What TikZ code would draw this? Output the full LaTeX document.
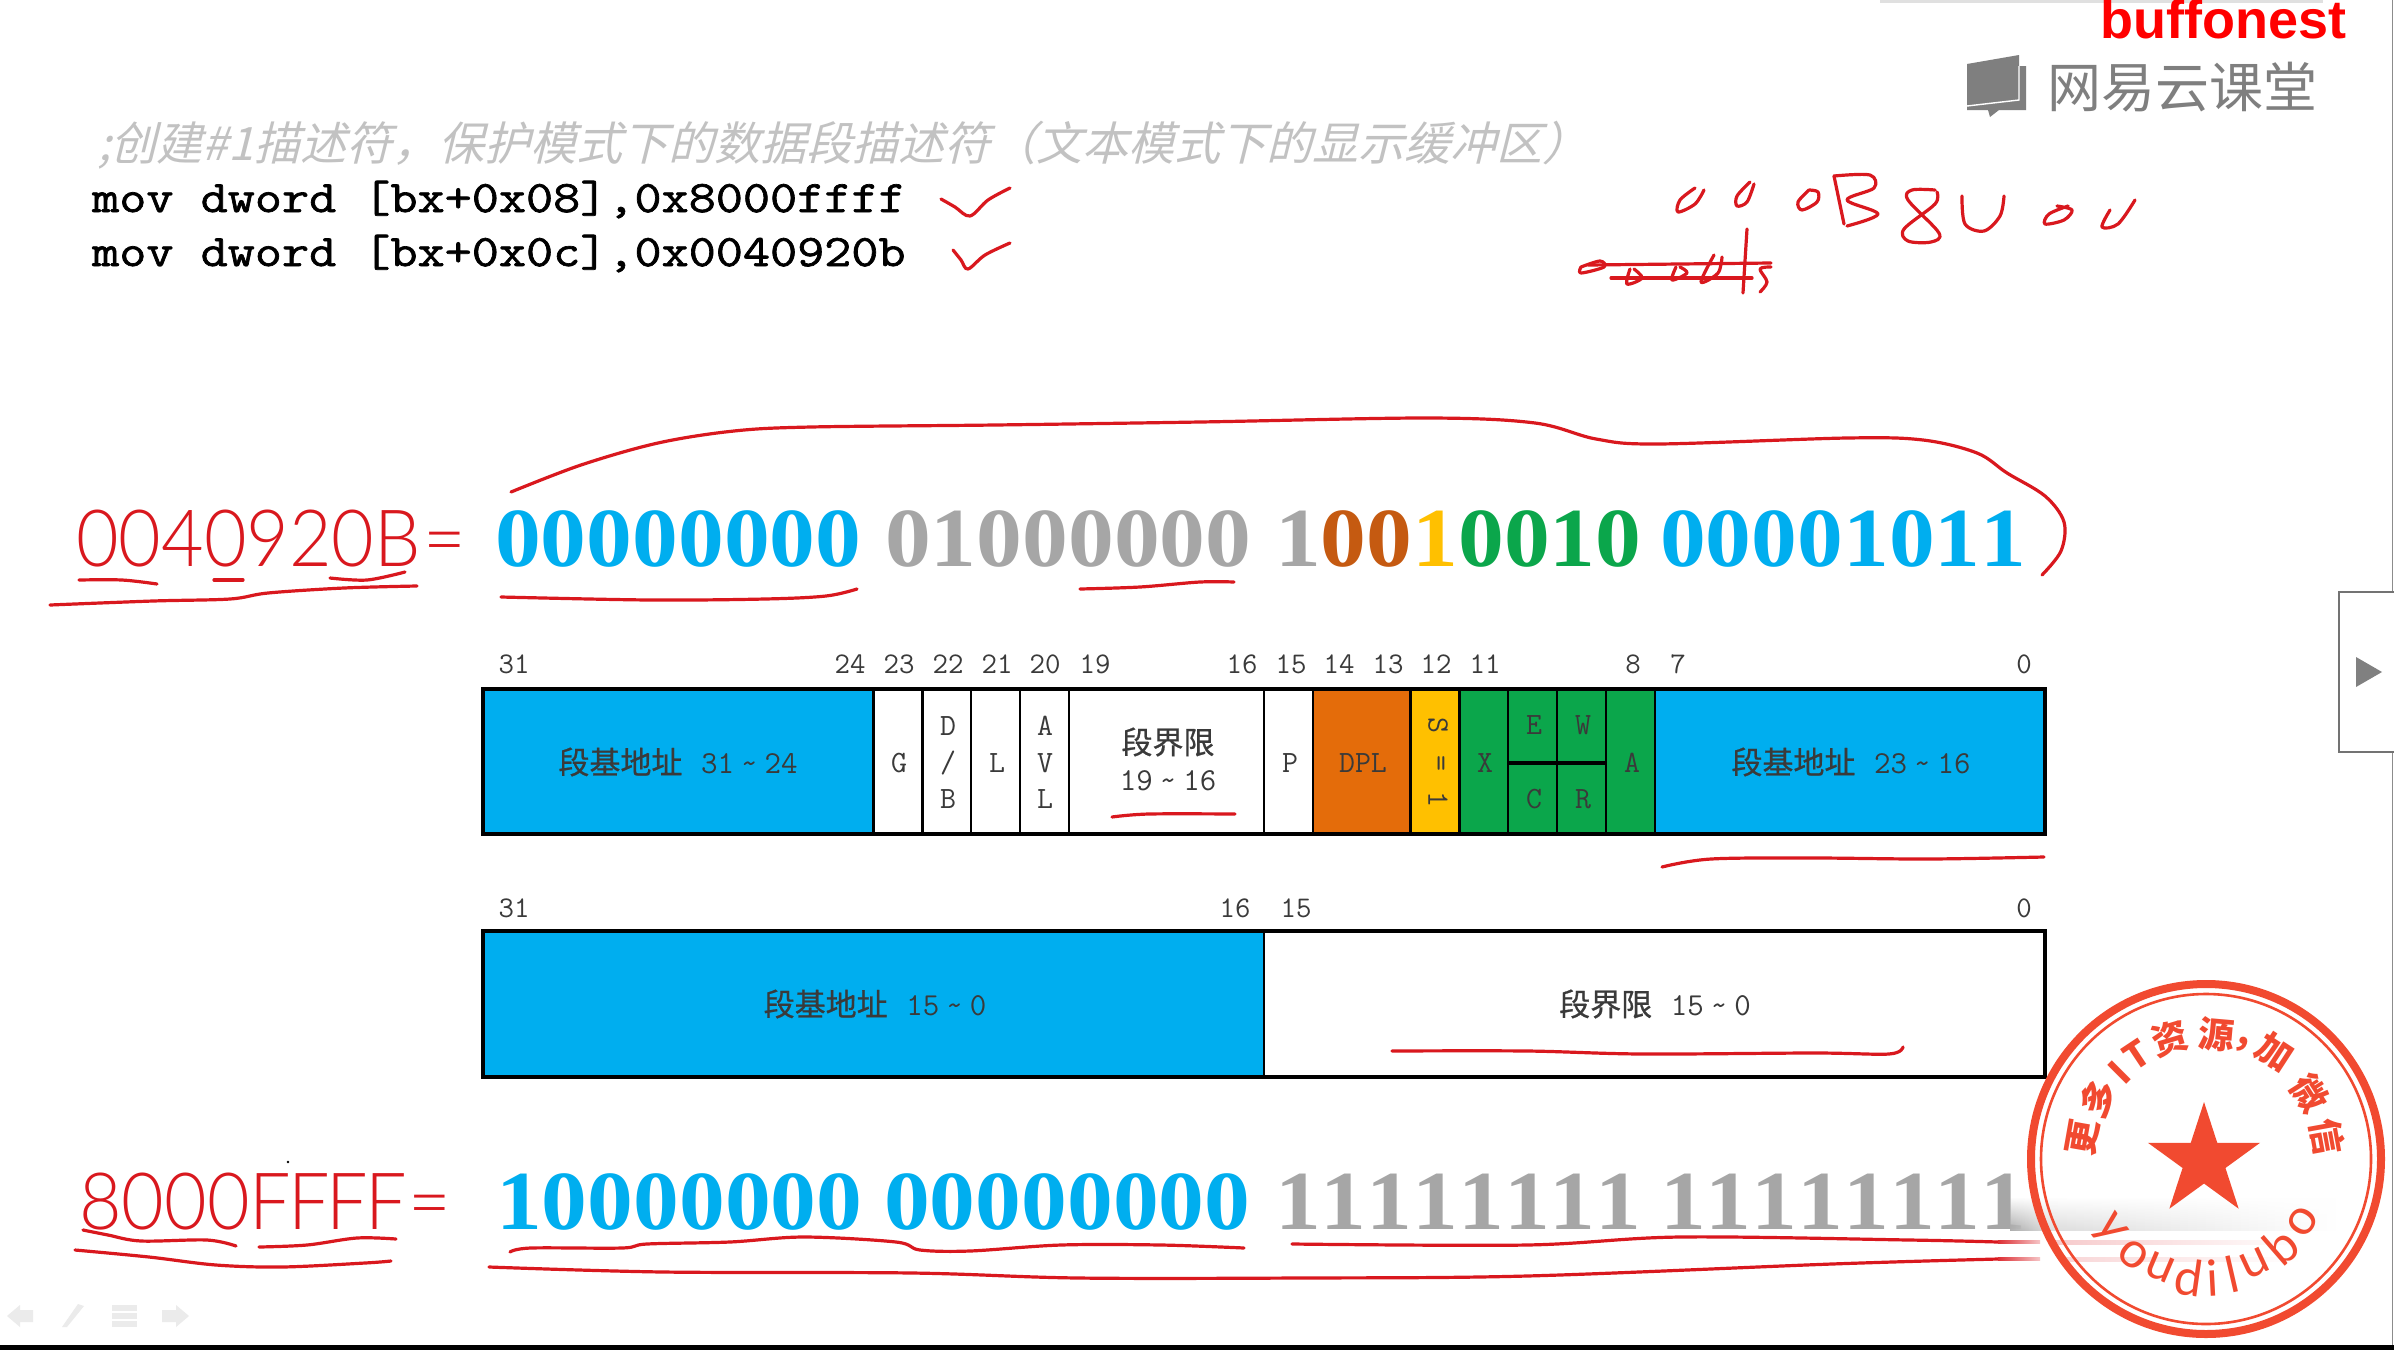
\documentclass[tikz,border=0pt]{standalone}
\usepackage{fontspec}
\usetikzlibrary{shapes.geometric,fadings}
\newfontfamily\bigdig[FakeStretch=1.09,Kerning=Off]{Liberation Serif}
\newfontfamily\redthin[FakeStretch=.93]{Lato Light}
\newfontfamily\monof{Latin Modern Mono}
\newfontfamily\movf[FakeStretch=1.17,FakeBold=1.5]{Latin Modern Mono}
\newfontfamily\cjkf{Noto Sans CJK SC}
\newfontfamily\cellcjk[FakeBold=.7]{Noto Sans CJK SC}
\newfontfamily\cmtf[FakeSlant=.25]{Noto Sans CJK SC}
\newfontfamily\arialf{Liberation Sans}
\newfontfamily\stampf{Lato}
\newcommand{\fsz}[1]{\fontsize{#1}{#1}\selectfont}
\newcommand{\tld}{\textasciitilde}
\newcommand{\rng}[2]{{\fsz{32}#1\hspace{.22em}\tld\hspace{.22em}#2}}
\definecolor{blueF}{HTML}{00AEEF}
\definecolor{orangeF}{HTML}{E46C0A}
\definecolor{yellowF}{HTML}{FFC000}
\definecolor{greenF}{HTML}{0BA64B}
\definecolor{grayD}{HTML}{A6A6A6}
\definecolor{brownD}{HTML}{C55A11}
\definecolor{inkred}{HTML}{D9181E}
\definecolor{stampred}{HTML}{F14A30}
\definecolor{labgray}{HTML}{3A3A3A}
\definecolor{logogray}{HTML}{7F7F7F}
\tikzset{
  ink/.style={draw=inkred,line width=3.2pt,line join=round,line cap=round},
  lbl/.style={inner sep=0pt,font=\monof\fsz{30},text=labgray},
  celltxt/.style={inner sep=0pt,font=\monof\fsz{31},text=labgray},
  digits/.style={inner sep=0pt,anchor=base west,font=\bigdig\bfseries\fsz{84}},
  redtxt/.style={inner sep=0pt,anchor=base west,font=\redthin\fsz{79},text=inkred},
  outer/.style={draw=black,line width=3.6pt,line join=miter},
  inner/.style={draw=black,line width=2.6pt},
  ctop/.style={inner sep=0pt,font=\cjkf\bfseries\fsz{36},text=stampred},
  clat/.style={inner sep=0pt,font=\stampf\fsz{50},text=stampred},
  navicon/.style={fill=black!8,draw=none}
}
\newcommand{\inkpath}[1]{\draw[ink] plot[smooth,tension=.55] coordinates {#1};}
\begin{document}
\begin{tikzpicture}[x=1pt,y=-1pt]
\useasboundingbox (0,0) rectangle (2394,1350);
\fill[white] (0,0) rectangle (2394,1350);
% chrome
\fill[black!12] (1880,0) rectangle (2323,3);
\fill[black] (0,1345) rectangle (2394,1350);
\draw[black!45,line width=1pt] (2392,0) -- (2392,1345);
\draw[black!55,fill=white,line width=1.4pt] (2394,592) -- (2339,592) -- (2339,752) -- (2394,752);
\fill[black!50] (2356,657) -- (2382,672) -- (2356,687) -- cycle;
% nav icons
\fill[navicon] (7,1316) -- (20,1305) -- (20,1310) -- (33,1310) -- (33,1322) -- (20,1322) -- (20,1327) -- cycle;
\fill[navicon] (62,1327) -- (78,1304) -- (84,1306) -- (67,1327) -- cycle;
\fill[navicon] (112,1305) rectangle (137,1311);
\fill[navicon] (112,1313) rectangle (137,1319);
\fill[navicon] (112,1321) rectangle (137,1327);
\fill[navicon] (189,1316) -- (176,1305) -- (176,1310) -- (162,1310) -- (162,1322) -- (176,1322) -- (176,1327) -- cycle;
\fill[black] (288,1162) circle (1.3pt);
% header marks
\node[inner sep=0pt,anchor=base east,font=\arialf\bfseries\fsz{54},text=red] (brand) at (2347,38) {buffonest};
\fill[logogray] (1967,64) -- (2019,55) -- (2019,100) -- (1967,106) -- cycle;
\fill[logogray] (1967,106) -- (2019,100) -- (2019,66) -- (2026,66) -- (2026,110) -- (1999,110) -- (1990,117) -- (1988,110) -- (1967,110) -- cycle;
\draw[white,line width=1.4pt] (1967,106) -- (2019,100) -- (2019,66);
\node[inner sep=0pt,anchor=base west,font=\cjkf\fsz{54},text=logogray] (logo) at (2047,107) {网易云课堂};
% code
\node[inner sep=0pt,anchor=base west,font=\cmtf\fsz{46},text=black!24] (comment) at (98,160) {;创建\#1描述符，保护模式下的数据段描述符（文本模式下的显示缓冲区）};
\node[inner sep=0pt,anchor=base west,font=\movf\fsz{45},text=black] (mov1) at (92,212) {mov dword [bx+0x08],0x8000ffff};
\node[inner sep=0pt,anchor=base west,font=\movf\fsz{45},text=black] (mov2) at (92,266) {mov dword [bx+0x0c],0x0040920b};
\inkpath{(941,199)(955,207)(970,216)(988,200)(1010,188)}
\inkpath{(953,250)(961,260)(968,269)(985,255)(1010,243)}
% handwritten top right
\inkpath{(1695,188)(1680,200)(1678,212)(1695,204)(1704,190)}
\inkpath{(1750,182)(1737,196)(1737,206)(1747,202)(1754,184)}
\inkpath{(1809,190)(1798,202)(1802,210)(1817,202)(1818,192)(1809,190)}
\draw[ink] (1834,176) -- (1844,224);
\inkpath{(1834,176)(1870,175)(1874,188)(1847,200)(1878,214)(1847,226)}
\inkpath{(1935,190)(1912,190)(1908,200)(1939,233)(1931,242)(1908,241)(1904,229)(1935,204)(1937,192)}
\inkpath{(1962,196)(1965,224)(1984,231)(2000,216)(2004,196)}
\inkpath{(2068,206)(2049,214)(2045,224)(2064,220)(2072,210)(2057,206)}
\inkpath{(2110,210)(2102,227)(2118,224)(2135,200)}
\inkpath{(1581,267)(1600,261)(1604,267)(1581,273)(1581,267)}
\draw[ink] (1588,265) -- (1771,263);
\draw[ink] (1611,278) -- (1752,278);
\draw[ink] (1747,229) -- (1743,293);
\inkpath{(1630,269)(1627,284)(1642,278)(1634,269)}
\inkpath{(1676,267)(1672,280)(1687,273)(1680,267)}
\inkpath{(1714,255)(1701,282)(1718,273)(1722,257)}
\inkpath{(1771,267)(1760,269)(1767,282)(1760,292)}
% row 1 digits
\node[redtxt] (hex1) at (76,566) {0040920B\kern 3pt=};
\node[digits,text=blueF] (d1a) at (495,566) {00000000};
\node[digits,text=grayD] (d1b) at (885,566) {01000000};
\node[digits] (d1c) at (1275,566) {{\color{grayD}1}{\color{brownD}00}{\color{yellowF}1}{\color{greenF}0010}};
\node[digits,text=blueF] (d1d) at (1660,566) {00001011};
% bracket and underlines
\inkpath{(511,492)(581,465)(658,443)(734,431)(811,427)(995,425)(1200,422)(1428,418)(1535,423)(1596,439)(1657,444)(1847,438)(1923,440)(1977,453)(2007,473)(2045,496)(2064,522)(2061,551)(2042,575)}
\inkpath{(79,580)(122,580)(157,584)}
\inkpath{(214,580)(243,580)}
\inkpath{(330,578)(367,580)(405,572)}
\inkpath{(50,605)(153,601)(230,599)(268,593)(344,588)(417,586)}
\inkpath{(501,597)(650,600)(765,599)(826,596)(857,589)}
\inkpath{(1080,589)(1140,587)(1200,582)(1234,582)}
% table 1
\fill[blueF] (483,689) rectangle (873.5,834);
\fill[orangeF] (1313,689) rectangle (1410.7,834);
\fill[yellowF] (1410.7,689) rectangle (1459.5,834);
\fill[greenF] (1459.5,689) rectangle (1655,834);
\fill[blueF] (1655,689) rectangle (2045,834);
\foreach \x in {873.5,922.3,971,1020,1069,1264,1313,1410.7,1459.5,1508,1557,1606,1655}
  \draw[inner] (\x,689) -- (\x,834);
\draw[draw=black,line width=3.4pt] (1508,763) -- (1606,763);
\draw[outer] (483,689) rectangle (2045,834);
% table 2
\fill[blueF] (483,931) rectangle (1264,1077);
\draw[inner] (1264,931) -- (1264,1077);
\draw[outer] (483,931) rectangle (2045,1077);
% bit labels
\foreach \t/\x in {31/514,24/850,23/899,22/948,21/997,20/1045,19/1095,16/1242,15/1291,14/1339,13/1388,12/1436,11/1485,8/1633,7/1678,0/2024}
  \node[lbl] (top\t) at (\x,664) {\t};
\foreach \t/\x in {31/514,16/1235,15/1296,0/2024}
  \node[lbl] (bot\t) at (\x,908) {\t};
% cell text
\node[celltxt] (basea) at (678,762) {{\cellcjk\fsz{31}段基地址}\hspace{.6em}\rng{31}{24}};
\node[celltxt] (fG) at (899,763) {G};
\node[celltxt] (fD) at (948,726) {D};
\node[celltxt] (fSl) at (948,763) {/};
\node[celltxt] (fB) at (948,799) {B};
\node[celltxt] (fL) at (997,763) {L};
\node[celltxt] (fA) at (1045,726) {A};
\node[celltxt] (fV) at (1045,763) {V};
\node[celltxt] (fLb) at (1045,799) {L};
\node[celltxt,font=\cellcjk\fsz{31}] (lim1) at (1168,742) {段界限};
\node[celltxt] (lim2) at (1168,781) {\rng{19}{16}};
\node[celltxt] (fP) at (1290,763) {P};
\node[celltxt] (fDPL) at (1363,763) {DPL};
\node[celltxt,rotate=-90] (fS) at (1438,725) {S};
\node[celltxt,rotate=-90] (fEq) at (1438,763) {=};
\node[celltxt,rotate=-90] (fOne) at (1438,799) {1};
\node[celltxt] (fX) at (1485,763) {X};
\node[celltxt] (fE) at (1534,725) {E};
\node[celltxt] (fC) at (1534,799) {C};
\node[celltxt] (fW) at (1583,725) {W};
\node[celltxt] (fR) at (1583,799) {R};
\node[celltxt] (fAc) at (1632,763) {A};
\node[celltxt] (baseb) at (1851,762) {{\cellcjk\fsz{31}段基地址}\hspace{.6em}\rng{23}{16}};
\node[celltxt] (basec) at (875,1004) {{\cellcjk\fsz{31}段基地址}\hspace{.6em}\rng{15}{0}};
\node[celltxt] (limc) at (1655,1004) {{\cellcjk\fsz{31}段界限}\hspace{.6em}\rng{15}{0}};
% table underlines
\inkpath{(1112,817)(1149,814)(1235,814)}
\inkpath{(1662,867)(1711,859)(1814,858)(1929,859)(2044,857)}
\inkpath{(1392,1051)(1527,1051)(1642,1054)(1814,1053)(1889,1054)(1903,1047)}
% row 2
\node[redtxt] (hex2) at (79,1229) {8000F\kern-3pt F\kern-3pt F\kern-3pt F\kern 2pt=};
\node[digits,text=blueF] (d2a) at (496,1229) {10000000};
\node[digits,text=blueF] (d2b) at (884,1229) {00000000};
\node[digits,text=grayD] (d2c) at (1275,1229) {11111111};
\node[digits,text=grayD] (d2d) at (1660,1229) {11111111};
\inkpath{(83,1230)(108,1235)(141,1241)(207,1240)(236,1246)}
\inkpath{(259,1247)(307,1245)(357,1238)(396,1239)}
\inkpath{(75,1250)(149,1257)(216,1265)(282,1267)(365,1263)(391,1261)}
\inkpath{(510,1252)(531,1248)(622,1248)(647,1244)(730,1242)(804,1237)(896,1242)(920,1250)(970,1251)(1061,1245)(1161,1245)(1244,1248)}
\inkpath{(489,1267)(663,1272)(912,1273)(1078,1278)(1300,1278)(1527,1276)(1832,1264)(1998,1259)}
\inkpath{(1292,1244)(1527,1245)(1680,1237)(1909,1240)(1998,1242)}
% stamp
\shade[left color=black!32,right color=black!8,path fading=north] (2010,1197) rectangle (2060,1230);
\fill[white] (2206,1159) circle (176);
\begin{scope}
\clip (2206,1159) circle (172);
\shade[left color=black!14,right color=white,path fading=north] (2030,1197) rectangle (2340,1230);
\shade[left color=inkred!25,right color=white] (2030,1240) rectangle (2300,1244);
\shade[left color=inkred!20,right color=white] (2030,1257) rectangle (2300,1261);
\end{scope}
\shade[left color=inkred!90,right color=inkred!25] (1998,1240) rectangle (2040,1243.5);
\shade[left color=inkred!90,right color=inkred!25] (1998,1257) rectangle (2040,1260.5);
\draw[stampred,line width=8pt] (2206,1159) circle (175);
\draw[stampred,line width=2.6pt] (2206,1159) circle (165);
\node[star,star points=5,star point ratio=2.618,fill=stampred,minimum size=118pt,inner sep=0pt] (stamstar) at (2204,1161) {};
\foreach \c/\a/\r in {更/-80/125,多/-60.5/124,I/-45/122,T/-33.6/125,资/-16.6/126,源/5/125,{,}/17.6/120,加/33/127,微/57.6/123,信/79.7/123}
  \node[ctop,rotate=-\a] (s\a) at ({2206+\r*sin(\a)},{1159-\r*cos(\a)}) {\c};
\foreach \c/\a/\r in {y/-54/120,o/-37/120,u/-23/118,d/-8/120,i/3/119,l/13/118,u/25/115,b/41/115,o/57/115}
  \node[clat,rotate=\a] (b\a) at ({2206+\r*sin(\a)},{1159+\r*cos(\a)}) {\c};
\end{tikzpicture}
\end{document}
